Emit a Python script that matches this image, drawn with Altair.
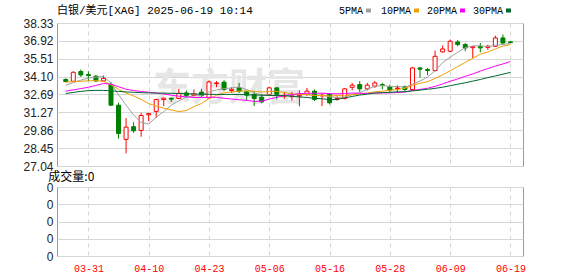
import json
import altair as alt
import pandas as pd

title_text = "白银/美元[XAG] 2025-06-19 10:14"
volume_title = "成交量:0"
watermark = "东方财富"

dates = ["03-26", "03-27", "03-28", "03-31", "04-01", "04-02", "04-03", "04-04", "04-07", "04-08",
         "04-09", "04-10", "04-11", "04-14", "04-15", "04-16", "04-17", "04-21", "04-22", "04-23",
         "04-24", "04-25", "04-28", "04-29", "04-30", "05-01", "05-02", "05-06", "05-07", "05-08",
         "05-09", "05-12", "05-13", "05-14", "05-15", "05-16", "05-19", "05-20", "05-21", "05-22",
         "05-23", "05-26", "05-27", "05-28", "05-29", "05-30", "06-02", "06-03", "06-04", "06-05",
         "06-06", "06-09", "06-10", "06-11", "06-12", "06-13", "06-16", "06-17", "06-18", "06-19"]

opens = [33.87, 33.73, 34.50, 34.26, 34.13, 33.76, 33.48, 31.84, 29.14, 30.14,
         29.85, 31.08, 31.35, 32.29, 32.40, 32.37, 32.81, 32.60, 32.87, 32.42,
         33.55, 33.66, 33.00, 33.21, 32.89, 32.69, 32.47, 32.69, 33.21, 32.55,
         32.52, 32.55, 32.69, 32.95, 32.58, 32.69, 32.30, 32.37, 33.25, 33.47,
         33.13, 33.34, 33.47, 33.29, 33.15, 33.29, 33.08, 34.78, 34.66, 34.58,
         36.05, 36.10, 36.83, 36.63, 36.38, 36.46, 36.40, 36.49, 37.15, 36.84]
highs = [33.97, 34.52, 34.66, 34.52, 34.23, 34.19, 33.66, 32.03, 30.82, 30.50,
         31.24, 31.22, 32.34, 32.42, 32.42, 33.13, 33.00, 33.08, 33.13, 33.80,
         33.74, 33.81, 33.26, 33.60, 32.95, 32.95, 32.74, 33.30, 33.26, 32.90,
         32.89, 33.00, 33.21, 33.08, 32.80, 32.81, 32.55, 33.20, 33.60, 33.74,
         33.60, 33.74, 33.60, 33.47, 33.40, 33.40, 34.85, 34.85, 34.78, 36.16,
         36.55, 37.02, 36.99, 36.75, 36.49, 36.75, 36.60, 37.33, 37.42, 36.89]
lows = [33.65, 33.70, 34.07, 33.74, 33.68, 33.76, 31.77, 29.19, 28.04, 29.66,
        29.35, 30.58, 30.84, 31.77, 32.09, 32.32, 32.42, 32.58, 32.50, 32.35,
        33.26, 32.95, 32.81, 32.81, 32.22, 31.77, 31.98, 32.60, 32.29, 32.35,
        32.21, 31.75, 32.55, 32.16, 31.77, 31.90, 32.20, 32.30, 33.00, 32.87,
        33.00, 33.21, 33.08, 32.81, 32.81, 32.95, 33.00, 34.00, 34.21, 34.50,
        36.00, 36.02, 36.49, 36.10, 35.57, 36.02, 36.20, 36.43, 36.62, 36.74]
closes = [33.71, 34.44, 34.23, 34.18, 33.76, 33.95, 31.84, 29.61, 30.11, 29.82,
          31.03, 31.18, 32.29, 32.40, 32.32, 32.77, 32.62, 32.73, 32.60, 33.68,
          33.60, 33.08, 33.10, 32.95, 32.63, 32.37, 32.10, 33.21, 32.69, 32.62,
          32.58, 32.62, 32.95, 32.30, 32.62, 32.03, 32.37, 33.13, 33.42, 33.13,
          33.42, 33.60, 33.40, 33.03, 33.20, 33.08, 34.78, 34.68, 34.58, 35.70,
          36.28, 36.89, 36.63, 36.36, 36.46, 36.36, 36.50, 37.15, 36.75, 36.78]

ma5 = [33.42, 33.62, 33.82, 33.98, 34.06, 34.11, 33.59, 32.67, 31.85, 31.07,
       30.48, 30.35, 30.89, 31.34, 31.84, 32.19, 32.48, 32.57, 32.61, 32.88,
       33.05, 33.14, 33.21, 33.28, 33.07, 32.83, 32.63, 32.65, 32.60, 32.60,
       32.64, 32.74, 32.69, 32.61, 32.61, 32.50, 32.45, 32.49, 32.71, 32.82,
       33.09, 33.34, 33.39, 33.32, 33.33, 33.26, 33.50, 33.75, 34.06, 34.56,
       35.20, 35.63, 36.02, 36.37, 36.52, 36.54, 36.46, 36.57, 36.64, 36.71]
ma10 = [33.66, 33.70, 33.73, 33.76, 33.78, 33.72, 33.45, 33.10, 32.80, 32.57,
        32.30, 31.97, 31.78, 31.60, 31.46, 31.34, 31.42, 31.73, 31.98, 32.36,
        32.62, 32.81, 32.89, 32.95, 32.98, 32.94, 32.88, 32.93, 32.94, 32.84,
        32.73, 32.69, 32.67, 32.61, 32.61, 32.57, 32.60, 32.59, 32.66, 32.72,
        32.80, 32.90, 32.94, 33.02, 33.07, 33.18, 33.42, 33.57, 33.69, 33.95,
        34.23, 34.56, 34.89, 35.22, 35.54, 35.87, 36.04, 36.29, 36.51, 36.62]
ma20 = [32.95, 33.05, 33.15, 33.26, 33.40, 33.55, 33.50, 33.30, 33.10, 33.00,
        32.92, 32.87, 32.80, 32.72, 32.63, 32.55, 32.50, 32.45, 32.45, 32.46,
        32.46, 32.39, 32.33, 32.27, 32.22, 32.14, 32.15, 32.33, 32.46, 32.60,
        32.68, 32.75, 32.78, 32.78, 32.79, 32.75, 32.74, 32.76, 32.80, 32.78,
        32.77, 32.79, 32.81, 32.81, 32.84, 32.88, 33.01, 33.08, 33.18, 33.33,
        33.52, 33.73, 33.91, 34.12, 34.31, 34.53, 34.73, 34.93, 35.10, 35.28]
ma30 = [32.76, 32.85, 32.93, 32.99, 33.01, 33.01, 32.98, 32.93, 32.89, 32.86,
        32.83, 32.81, 32.80, 32.79, 32.78, 32.77, 32.75, 32.73, 32.71, 32.70,
        32.69, 32.69, 32.69, 32.68, 32.67, 32.65, 32.63, 32.61, 32.60, 32.59,
        32.55, 32.49, 32.45, 32.38, 32.35, 32.28, 32.30, 32.42, 32.53, 32.64,
        32.72, 32.80, 32.83, 32.86, 32.89, 32.90, 32.97, 33.03, 33.10, 33.17,
        33.26, 33.38, 33.50, 33.61, 33.74, 33.87, 34.02, 34.15, 34.29, 34.43]
volumes = [0, 0, 0, 0, 0, 0, 0, 0, 0, 0, 0, 0, 0, 0, 0, 0, 0, 0, 0, 0,
           0, 0, 0, 0, 0, 0, 0, 0, 0, 0, 0, 0, 0, 0, 0, 0, 0, 0, 0, 0,
           0, 0, 0, 0, 0, 0, 0, 0, 0, 0, 0, 0, 0, 0, 0, 0, 0, 0, 0, 0]

tick_labels = ["03-31", "04-10", "04-23", "05-06", "05-16", "05-28", "06-09", "06-19"]
y_ticks = [27.04, 28.45, 29.86, 31.27, 32.69, 34.10, 35.51, 36.92, 38.33]
vol_ticks = [0, 0.1, 0.2, 0.3, 0.4]
ma_names = ["5PMA", "10PMA", "20PMA", "30PMA"]
ma_fields = ["ma5", "ma10", "ma20", "ma30"]
ma_colors = ["#a0a0a0", "#f0a000", "#ff00ff", "#006633"]

df = pd.DataFrame({
    "i": list(range(len(dates))), "date": dates,
    "open": opens, "high": highs, "low": lows, "close": closes,
    "ma5": ma5, "ma10": ma10, "ma20": ma20, "ma30": ma30, "vol": volumes,
})
df["dir"] = ["up" if c >= o else "down" for o, c in zip(opens, closes)]

tick_pos = [dates.index(t) for t in tick_labels]
label_expr = json.dumps(dates) + "[datum.value]"

W, H_TOP, H_BOT = 466, 143, 69
MONO = "Liberation Mono, Noto Sans CJK SC"

xscale = alt.Scale(domain=[-0.5, 60.0], nice=False, zero=False)
x_top = alt.X("i:Q", scale=xscale,
              axis=alt.Axis(values=tick_pos, labels=False, ticks=False, domain=False,
                            grid=True, gridDash=[4, 4], title=None))
yscale = alt.Scale(domain=[27.04, 38.33], nice=False, zero=False)
y_axis = alt.Axis(values=y_ticks, format=".2f", title=None, grid=True, labelPadding=4)

color_scale = alt.Scale(domain=["up", "down"], range=["#ff0000", "#008000"])
fill_scale = alt.Scale(domain=["up", "down"], range=["#ffffff", "#008000"])

base = alt.Chart(df)

wm = alt.Chart(pd.DataFrame({"t": [watermark]})).mark_text(
    font="Noto Sans CJK SC", fontSize=38, fontWeight="bold", color="#e6e6e6",
    align="center", baseline="middle"
).encode(text="t:N", x=alt.value(172), y=alt.value(66))

wicks = base.mark_rule(strokeWidth=1).encode(
    x=x_top, y=alt.Y("low:Q", scale=yscale, axis=y_axis), y2="high:Q",
    color=alt.Color("dir:N", scale=color_scale, legend=None))
bodies = base.mark_bar(size=4, strokeWidth=1).encode(
    x=x_top, y=alt.Y("open:Q", scale=yscale, axis=y_axis), y2="close:Q",
    fill=alt.Fill("dir:N", scale=fill_scale, legend=None),
    stroke=alt.Stroke("dir:N", scale=color_scale, legend=None))

lines = [base.mark_line(strokeWidth=1, color=c).encode(
    x=x_top, y=alt.Y(f"{f}:Q", scale=yscale, axis=y_axis))
    for f, c in zip(ma_fields, ma_colors)]

title_layer = alt.Chart(pd.DataFrame({"t": [title_text]})).mark_text(
    font=MONO, fontSize=11, color="#000000", align="left", baseline="middle"
).encode(text="t:N", x=alt.value(0), y=alt.value(-12))

legend_text_x = [282, 324, 370, 416]
legend_sq_x = [309, 357, 403, 449]
legend_layers = []
for name, col, tx, sx in zip(ma_names, ma_colors, legend_text_x, legend_sq_x):
    d = pd.DataFrame({"label": [name]})
    legend_layers.append(alt.Chart(d).mark_text(
        font=MONO, fontSize=10, color="#000000", align="left", baseline="middle"
    ).encode(text="label:N", x=alt.value(tx), y=alt.value(-12.5)))
    legend_layers.append(alt.Chart(d).mark_rect(color=col).encode(
        x=alt.value(sx), x2=alt.value(sx + 5), y=alt.value(-14.5), y2=alt.value(-10.5)))

top = alt.layer(wm, wicks, bodies, *lines, title_layer, *legend_layers).properties(
    width=W, height=H_TOP)

x_bot = alt.X("i:Q", scale=xscale,
              axis=alt.Axis(values=tick_pos, labelExpr=label_expr, labelColor="#ff0000",
                            labelFont="Liberation Mono", labelFontSize=10, labelPadding=7,
                            labelFlush=False, ticks=False, domain=False, grid=True,
                            gridDash=[4, 4], title=None))
bottom = base.mark_bar(size=4, color="#008000").encode(
    x=x_bot,
    y=alt.Y("vol:Q", scale=alt.Scale(domain=[0, 0.4], nice=False, zero=True),
            axis=alt.Axis(values=vol_ticks, format=".0f", title=None, grid=True, labelPadding=4)),
).properties(
    width=W, height=H_BOT,
    title=alt.TitleParams(volume_title, anchor="start", font="Noto Sans CJK SC", fontSize=12,
                          fontWeight="normal", color="#000000", offset=-3, dx=2))

chart = alt.vconcat(top, bottom, spacing=21, bounds="flush").properties(
    padding={"left": 22, "top": 4, "right": 10, "bottom": 5}, background="white"
).configure_view(stroke="#999999", strokeWidth=1).configure_axis(
    labelFont="Liberation Sans", labelFontSize=12, labelColor="#222222",
    gridColor="#d6d6d6", gridWidth=1, domain=False, ticks=False)

chart.save("out.html", embed_options={"renderer": "svg", "actions": False})
